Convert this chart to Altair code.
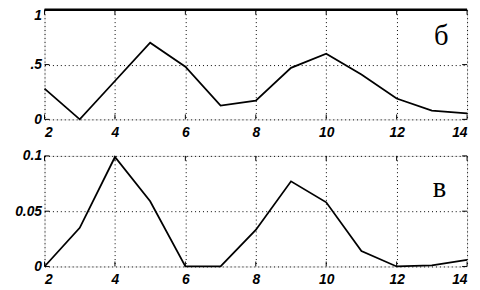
import altair as alt
import pandas as pd

x_vals = [2, 3, 4, 5, 6, 7, 8, 9, 10, 11, 12, 13, 14]
top_vals = [0.28, 0.0, 0.35, 0.70, 0.48, 0.125, 0.17, 0.47, 0.60, 0.41, 0.19, 0.08, 0.055]
bot_vals = [0.0, 0.035, 0.099, 0.059, 0.0, 0.0, 0.033, 0.077, 0.058, 0.014, 0.0, 0.001, 0.006]
x_ticks = [2, 4, 6, 8, 10, 12, 14]
top_ticks = [0, 0.5, 1]
bot_ticks = [0, 0.05, 0.1]
top_letter = "б"
bot_letter = "в"

W = 428
LABEL = dict(labelFont="Liberation Sans", labelFontWeight="bold", labelFontStyle="italic",
             labelFontSize=14, labelColor="black")
GRID = dict(grid=True, gridColor="black", gridDash=[1, 3], gridWidth=1, gridOpacity=1)


def panel(vals, yticks, ydom, ylabels, letter, lx, ly, h, thick_top=False, top_off=0):
    df = pd.DataFrame({"x": x_vals, "y": vals})
    xs = alt.Scale(domain=[2, 14], nice=False, zero=False)
    ys = alt.Scale(domain=ydom, nice=False, zero=False)
    yaxis = dict(values=yticks, title=None, domain=False, ticks=False,
                 labelPadding=3, labelExpr=ylabels, minExtent=36, maxExtent=36)
    if top_off:
        yaxis["labelOffset"] = {"condition": {"test": f"datum.value == {ydom[1]}", "value": top_off},
                                "value": 0}
    line = alt.Chart(df).mark_line(color="black", strokeWidth=1.8).encode(
        x=alt.X("x:Q", scale=xs,
                axis=alt.Axis(values=x_ticks, title=None, domain=False, ticks=False,
                              labelPadding=6, labelFlush=True, format="d", **LABEL, **GRID)),
        y=alt.Y("y:Q", scale=ys, axis=alt.Axis(**yaxis, **LABEL, **GRID)),
    )
    xt = pd.DataFrame({"t": x_ticks})
    yt = pd.DataFrame({"t": yticks})
    tick_b = alt.Chart(xt).mark_rule(color="black", strokeWidth=1).encode(
        x=alt.X("t:Q", scale=xs), y=alt.value(h - 5), y2=alt.value(h))
    tick_t = alt.Chart(xt).mark_rule(color="black", strokeWidth=1).encode(
        x=alt.X("t:Q", scale=xs), y=alt.value(0), y2=alt.value(5))
    tick_l = alt.Chart(yt).mark_rule(color="black", strokeWidth=1).encode(
        y=alt.Y("t:Q", scale=ys), x=alt.value(0), x2=alt.value(5))
    tick_r = alt.Chart(yt).mark_rule(color="black", strokeWidth=1).encode(
        y=alt.Y("t:Q", scale=ys), x=alt.value(W - 5), x2=alt.value(W))
    txt = alt.Chart(pd.DataFrame({"t": [letter]})).mark_text(
        font="Liberation Serif", fontSize=29, color="black", align="center", baseline="middle"
    ).encode(text="t:N", x=alt.value(lx), y=alt.value(ly))
    layers = [line, tick_b, tick_t, tick_l, tick_r, txt]
    if thick_top:
        top_rule = alt.Chart(pd.DataFrame({"t": [0]})).mark_rule(color="black", strokeWidth=2.5).encode(
            x=alt.value(0), x2=alt.value(W), y=alt.value(0))
        layers.append(top_rule)
    return alt.layer(*layers).properties(width=W, height=h)


top = panel(top_vals, top_ticks, [0, 1],
            "datum.value == 1 ? '1' : datum.value == 0 ? '0' : '.5'",
            top_letter, 402, 27, 111, thick_top=True, top_off=6)
bot = panel(bot_vals, bot_ticks, [0, 0.1],
            "datum.value == 0 ? '0' : datum.value == 0.1 ? '0.1' : '0.05'",
            bot_letter, 400, 33, 112)

chart = alt.vconcat(top, bot, spacing=37, bounds="flush").properties(
    padding={"left": 0, "top": -2, "right": 0, "bottom": 0}
).configure_view(stroke="black", strokeWidth=1).configure(background="white")

chart.save("out.html", embed_options={"renderer": "svg", "actions": False})
